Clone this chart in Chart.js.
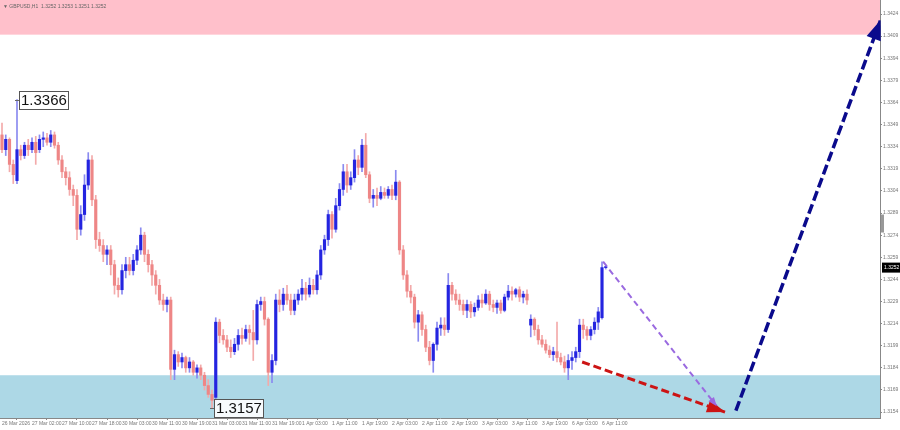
<!DOCTYPE html>
<html><head><meta charset="utf-8">
<script src="https://cdn.jsdelivr.net/npm/chart.js@4.4.1/dist/chart.umd.min.js"></script>
<style>html,body{margin:0;padding:0;background:#fff;overflow:hidden}#wrap{width:900px;height:430px;position:relative}</style>
</head><body><div id="wrap"><canvas id="c" width="900" height="430"></canvas></div>
<script>
const symbolTitle = "\u25BC GBPUSD,H1  1.3252 1.3253 1.3251 1.3252";
const timeLabels = ["26 Mar 2026","27 Mar 02:00","27 Mar 10:00","27 Mar 18:00","30 Mar 03:00","30 Mar 11:00","30 Mar 19:00","31 Mar 03:00","31 Mar 11:00","31 Mar 19:00","1 Apr 03:00","1 Apr 11:00","1 Apr 19:00","2 Apr 03:00","2 Apr 11:00","2 Apr 19:00","3 Apr 03:00","3 Apr 11:00","3 Apr 19:00","6 Apr 03:00","6 Apr 11:00"];
const barsPerLabel = 8;
const priceTicks = [1.3154,1.3169,1.3184,1.3199,1.3214,1.3229,1.3244,1.3259,1.3274,1.3289,1.3304,1.3319,1.3334,1.3349,1.3364,1.3379,1.3394,1.3409,1.3424];

const openVals = [1.3342,1.3332,1.3339,1.3322,1.3311,1.3332,1.3328,1.3335,1.3332,1.3337,1.3332,1.3339,1.3340,1.3337,1.3342,1.3335,1.3325,1.3317,1.3313,1.3305,
1.3301,1.3278,1.3288,1.3308,1.3325,1.3298,1.3271,1.3267,1.3261,1.3264,1.3254,1.3240,1.3237,1.3250,1.3254,1.3250,1.3257,1.3264,1.3274,1.3261,
1.3254,1.3247,1.3240,1.3230,1.3227,1.3230,1.3183,1.3193,1.3188,1.3191,1.3184,1.3188,1.3181,1.3184,1.3179,1.3172,1.3166,1.3164,1.3215,1.3206,
1.3203,1.3198,1.3195,1.3200,1.3206,1.3204,1.3210,1.3208,1.3203,1.3227,1.3229,1.3217,1.3181,1.3189,1.3230,1.3227,1.3234,1.3230,1.3223,1.3230,
1.3234,1.3238,1.3234,1.3240,1.3237,1.3247,1.3264,1.3271,1.3288,1.3278,1.3294,1.3305,1.3317,1.3308,1.3313,1.3325,1.3320,1.3335,1.3315,1.3299,
1.3301,1.3299,1.3303,1.3301,1.3305,1.3301,1.3310,1.3264,1.3247,1.3236,1.3232,1.3215,1.3220,1.3210,1.3198,1.3189,1.3200,1.3211,1.3213,1.3210,
1.3240,1.3234,1.3230,1.3227,1.3223,1.3227,1.3222,1.3225,1.3230,1.3228,1.3234,1.3227,1.3225,1.3228,1.3223,1.3232,1.3236,1.3234,1.3237,1.3232,
1.3234,1.3213,1.3217,1.3210,1.3203,1.3200,1.3196,1.3193,1.3195,1.3191,1.3188,1.3184,1.3189,1.3191,1.3195,1.3213,1.3210,1.3206,1.3210,1.3215,
1.3218,1.3252];
const highVals = [1.3350,1.3342,1.3340,1.3325,1.3366,1.3335,1.3337,1.3339,1.3340,1.3341,1.3342,1.3344,1.3343,1.3345,1.3344,1.3337,1.3328,1.3320,1.3317,1.3308,
1.3305,1.3294,1.3315,1.3330,1.3328,1.3301,1.3276,1.3271,1.3267,1.3267,1.3257,1.3245,1.3254,1.3259,1.3259,1.3261,1.3267,1.3279,1.3276,1.3264,
1.3257,1.3250,1.3244,1.3234,1.3232,1.3232,1.3196,1.3195,1.3194,1.3192,1.3191,1.3189,1.3186,1.3186,1.3181,1.3176,1.3169,1.3218,1.3217,1.3210,
1.3206,1.3203,1.3204,1.3210,1.3211,1.3213,1.3213,1.3223,1.3230,1.3232,1.3232,1.3218,1.3193,1.3234,1.3237,1.3238,1.3240,1.3234,1.3234,1.3237,
1.3244,1.3242,1.3245,1.3244,1.3250,1.3267,1.3274,1.3291,1.3290,1.3299,1.3309,1.3322,1.3322,1.3317,1.3332,1.3328,1.3339,1.3343,1.3317,1.3305,
1.3306,1.3307,1.3306,1.3307,1.3308,1.3318,1.3311,1.3267,1.3250,1.3240,1.3234,1.3223,1.3222,1.3213,1.3202,1.3201,1.3215,1.3218,1.3218,1.3248,
1.3242,1.3237,1.3234,1.3230,1.3230,1.3229,1.3228,1.3233,1.3234,1.3237,1.3236,1.3230,1.3230,1.3230,1.3234,1.3240,1.3239,1.3238,1.3239,1.3236,
1.3237,1.3220,1.3218,1.3213,1.3206,1.3203,1.3199,1.3198,1.3215,1.3194,1.3192,1.3193,1.3195,1.3198,1.3217,1.3217,1.3212,1.3212,1.3218,1.3225,
1.3256,1.3253];
const lowVals = [1.3330,1.3328,1.3317,1.3309,1.3309,1.3325,1.3326,1.3328,1.3330,1.3322,1.3330,1.3334,1.3335,1.3334,1.3333,1.3322,1.3313,1.3308,1.3301,1.3294,
1.3271,1.3274,1.3284,1.3305,1.3294,1.3265,1.3263,1.3256,1.3254,1.3247,1.3234,1.3232,1.3234,1.3245,1.3247,1.3247,1.3254,1.3261,1.3256,1.3249,
1.3240,1.3234,1.3227,1.3223,1.3222,1.3176,1.3176,1.3185,1.3184,1.3181,1.3181,1.3179,1.3177,1.3176,1.3169,1.3164,1.3157,1.3161,1.3201,1.3200,
1.3195,1.3191,1.3193,1.3196,1.3200,1.3202,1.3200,1.3189,1.3200,1.3223,1.3213,1.3172,1.3174,1.3186,1.3222,1.3223,1.3227,1.3220,1.3220,1.3227,
1.3230,1.3230,1.3232,1.3234,1.3234,1.3244,1.3261,1.3267,1.3272,1.3276,1.3291,1.3301,1.3303,1.3305,1.3310,1.3315,1.3317,1.3313,1.3296,1.3293,
1.3294,1.3298,1.3299,1.3299,1.3298,1.3298,1.3261,1.3244,1.3232,1.3228,1.3211,1.3202,1.3206,1.3195,1.3186,1.3181,1.3196,1.3206,1.3206,1.3208,
1.3230,1.3227,1.3223,1.3220,1.3218,1.3218,1.3219,1.3223,1.3225,1.3227,1.3223,1.3222,1.3221,1.3221,1.3222,1.3230,1.3230,1.3232,1.3229,1.3228,
1.3227,1.3205,1.3206,1.3200,1.3198,1.3194,1.3191,1.3189,1.3188,1.3186,1.3181,1.3176,1.3183,1.3188,1.3191,1.3204,1.3203,1.3203,1.3207,1.3210,
1.3217,1.3251];
const closeVals = [1.3332,1.3339,1.3322,1.3315,1.3332,1.3328,1.3335,1.3332,1.3337,1.3330,1.3339,1.3340,1.3337,1.3342,1.3335,1.3325,1.3317,1.3313,1.3305,1.3301,
1.3278,1.3288,1.3308,1.3325,1.3298,1.3271,1.3267,1.3261,1.3264,1.3254,1.3240,1.3237,1.3250,1.3254,1.3250,1.3257,1.3264,1.3274,1.3261,1.3254,
1.3247,1.3240,1.3230,1.3227,1.3230,1.3183,1.3193,1.3188,1.3191,1.3184,1.3188,1.3181,1.3184,1.3179,1.3172,1.3166,1.3162,1.3215,1.3206,1.3203,
1.3198,1.3195,1.3200,1.3206,1.3204,1.3210,1.3208,1.3203,1.3227,1.3229,1.3217,1.3181,1.3189,1.3230,1.3227,1.3234,1.3230,1.3223,1.3230,1.3234,
1.3238,1.3234,1.3240,1.3237,1.3247,1.3264,1.3271,1.3288,1.3278,1.3294,1.3305,1.3317,1.3308,1.3313,1.3325,1.3320,1.3335,1.3315,1.3299,1.3301,
1.3299,1.3303,1.3301,1.3305,1.3301,1.3310,1.3264,1.3247,1.3236,1.3232,1.3215,1.3220,1.3210,1.3198,1.3189,1.3200,1.3211,1.3213,1.3210,1.3240,
1.3234,1.3230,1.3227,1.3223,1.3227,1.3222,1.3225,1.3230,1.3228,1.3234,1.3227,1.3225,1.3228,1.3223,1.3232,1.3236,1.3234,1.3237,1.3232,1.3234,
1.3230,1.3217,1.3210,1.3203,1.3200,1.3196,1.3193,1.3195,1.3191,1.3188,1.3184,1.3189,1.3191,1.3195,1.3213,1.3210,1.3206,1.3210,1.3215,1.3222,
1.3252,1.3252];

const resistanceZone = [1.3410, 1.3440];
const supportZone = [1.3140, 1.3179];
const highMark = {index: 4, price: 1.3366, text: "1.3366"};
const lowMark = {index: 56, price: 1.3157, text: "1.3157"};
const lastPrice = 1.3252;
const redArrowX = [154.7, 192.8], redArrowY = [1.3188, 1.3154];
const purpleArrowX = [160.3, 190.6], purpleArrowY = [1.3256, 1.3158];
const navyArrowX = [195.7, 234.3], navyArrowY = [1.3155, 1.3420];

const BULL = '#2424e0', BULL_WICK = '#8a8af0', BEAR = '#ee8686', BEAR_WICK = '#f3aaaa';
const idx = openVals.map((_, i) => i);
const isBull = i => closeVals[i] >= openVals[i];

const zonesPlugin = {
  id: 'zones',
  beforeDatasetsDraw(chart) {
    const {ctx, chartArea: a, scales: {y}} = chart;
    ctx.save();
    const z = (r, col) => {
      const top = Math.max(a.top, y.getPixelForValue(r[1]));
      const bot = Math.min(a.bottom, y.getPixelForValue(r[0]));
      ctx.fillStyle = col;
      ctx.fillRect(a.left, top, a.right - a.left, bot - top);
    };
    z(resistanceZone, '#ffc0cb');
    z(supportZone, '#add8e6');
    ctx.restore();
  }
};

const marksPlugin = {
  id: 'marks',
  afterDatasetsDraw(chart) {
    const {ctx, scales: {x, y}} = chart;
    ctx.save();
    chart.data.datasets.forEach((ds, di) => {
      if (!ds.headLen) return;
      const pts = chart.getDatasetMeta(di).data;
      const p0 = pts[0], p1 = pts[1];
      const ang = Math.atan2(p1.y - p0.y, p1.x - p0.x);
      const L = ds.headLen, W = ds.headWid;
      ctx.fillStyle = ds.borderColor;
      ctx.beginPath();
      ctx.moveTo(p1.x, p1.y);
      ctx.lineTo(p1.x - L * Math.cos(ang) + W / 2 * Math.sin(ang), p1.y - L * Math.sin(ang) - W / 2 * Math.cos(ang));
      ctx.lineTo(p1.x - L * Math.cos(ang) - W / 2 * Math.sin(ang), p1.y - L * Math.sin(ang) + W / 2 * Math.cos(ang));
      ctx.closePath();
      ctx.fill();
    });
    const box = (m) => {
      const px = x.getPixelForValue(m.index), py = y.getPixelForValue(m.price);
      ctx.strokeStyle = '#666'; ctx.lineWidth = 1;
      ctx.beginPath(); ctx.moveTo(px - 2, Math.round(py) + 0.5); ctx.lineTo(px + 3, Math.round(py) + 0.5); ctx.stroke();
      ctx.font = '15px "Liberation Sans", Arial, sans-serif';
      const w = Math.round(ctx.measureText(m.text).width) + 3;
      const bx = Math.round(px + 2), by = Math.round(py - 9);
      ctx.fillStyle = 'rgba(255,255,255,0.9)';
      ctx.fillRect(bx, by, w, 18);
      ctx.strokeStyle = '#555';
      ctx.strokeRect(bx + 0.5, by + 0.5, w, 18);
      ctx.fillStyle = '#111'; ctx.textBaseline = 'middle'; ctx.textAlign = 'left';
      ctx.fillText(m.text, bx + 2, by + 10);
    };
    box(highMark); box(lowMark);
    ctx.restore();
  },
  afterDraw(chart) {
    const {ctx, chartArea: a, scales: {y}} = chart;
    ctx.save();
    ctx.font = '5px "Liberation Sans", Arial, sans-serif';
    ctx.fillStyle = '#666'; ctx.textBaseline = 'middle'; ctx.textAlign = 'left';
    ctx.fillText(symbolTitle, 3, 7);
    const py = y.getPixelForValue(lastPrice);
    ctx.fillStyle = '#000';
    ctx.fillRect(a.right + 2, py - 5, 900 - a.right - 2, 10);
    ctx.fillStyle = '#fff';
    ctx.fillText(lastPrice.toFixed(4), a.right + 4, py);
    ctx.fillStyle = '#999';
    ctx.fillRect(a.right + 1, y.getPixelForValue(1.3288), 3, 18);
    ctx.restore();
  }
};

const arrowDs = (xs, ys, color, w, dash, hl, hw) => ({
  type: 'line', data: xs.map((v, i) => ({x: v, y: ys[i]})),
  borderColor: color, borderWidth: w, borderDash: dash, pointRadius: 0,
  fill: false, tension: 0, order: 0, headLen: hl, headWid: hw
});

new Chart(document.getElementById('c'), {
  type: 'bar',
  data: {
    datasets: [
      arrowDs(navyArrowX, navyArrowY, '#0a0a8c', 3.5, [10, 4], 20, 15),
      arrowDs(redArrowX, redArrowY, '#cc1414', 3, [8, 4], 18, 13),
      arrowDs(purpleArrowX, purpleArrowY, '#9a6ae0', 2, [6, 4], 9, 7),
      {
        data: idx.map(i => ({x: i, y: [openVals[i], closeVals[i]]})),
        backgroundColor: c => isBull(c.dataIndex) ? BULL : BEAR,
        barThickness: 2.5, grouped: false, minBarLength: 1, order: 1
      },
      {
        data: idx.map(i => ({x: i, y: [lowVals[i], highVals[i]]})),
        backgroundColor: c => isBull(c.dataIndex) ? BULL_WICK : BEAR_WICK,
        barThickness: 1, grouped: false, order: 2
      }
    ]
  },
  options: {
    responsive: false, animation: false,
    layout: {padding: 0},
    plugins: {legend: {display: false}, tooltip: {enabled: false}},
    scales: {
      x: {
        type: 'linear', min: -0.533, max: 234.13, offset: false,
        grid: {drawOnChartArea: false, drawTicks: true, tickLength: 2, color: '#888'},
        border: {display: true, color: '#888'},
        afterBuildTicks: s => { s.ticks = timeLabels.map((t, k) => ({value: k * barsPerLabel})); },
        afterFit: s => { s.height = 12; s.paddingLeft = 0; s.paddingRight = 0; },
        ticks: {
          autoSkip: false, maxRotation: 0, minRotation: 0, align: 'start', padding: 1,
          color: '#777', font: {size: 5, family: '"Liberation Sans", Arial, sans-serif'},
          callback: v => timeLabels[Math.round(v / barsPerLabel)]
        }
      },
      y: {
        position: 'right', min: 1.3150, max: 1.34335, beginAtZero: false,
        grid: {drawOnChartArea: false, drawTicks: true, tickLength: 2, color: '#888'},
        border: {display: true, color: '#888'},
        afterBuildTicks: s => { s.ticks = priceTicks.map(v => ({value: v})); },
        afterFit: s => { s.width = 20; s.paddingTop = 0; s.paddingBottom = 0; },
        ticks: {
          autoSkip: false, padding: 1, color: '#777',
          font: {size: 5, family: '"Liberation Sans", Arial, sans-serif'},
          callback: v => Number(v).toFixed(4)
        }
      }
    }
  },
  plugins: [zonesPlugin, marksPlugin]
});
</script></body></html>
